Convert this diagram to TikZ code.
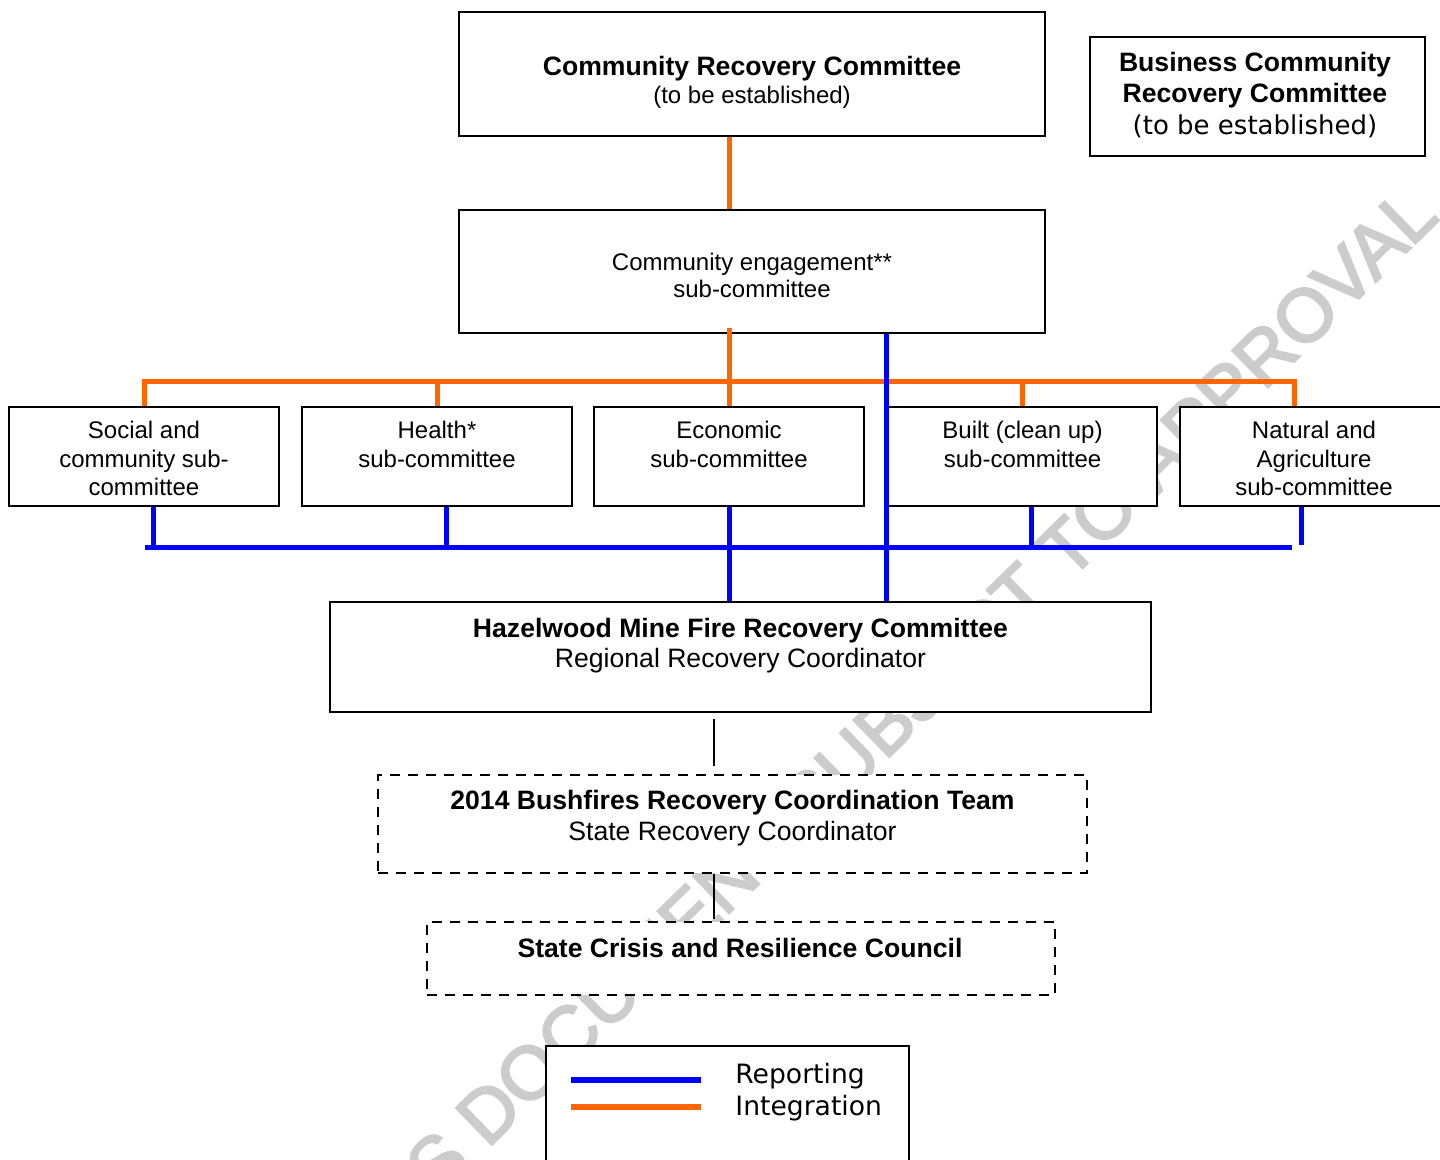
\documentclass[tikz,border=0pt]{standalone}
\usepackage{fontspec}
\setmainfont{Liberation Sans}
\newfontfamily\verd{DejaVu Sans}
\newfontfamily\wmfont[FakeBold=3]{Liberation Sans}
\usetikzlibrary{calc}
\definecolor{integc}{RGB}{255,102,0}
\definecolor{reportc}{RGB}{0,0,255}
\definecolor{wmarkc}{RGB}{204,204,204}
\begin{document}
\begin{tikzpicture}[x=0.5pt,y=-0.5pt,
  box/.style={draw=black, line width=1pt, fill=white, inner sep=0pt},
  dbox/.style={box, dash pattern=on 5pt off 4pt},
  reg/.style={font=\fontsize{12}{14}\selectfont, inner sep=0pt, anchor=base},
  regl/.style={font=\fontsize{13.3}{15}\selectfont, inner sep=0pt, anchor=base},
  bld/.style={font=\fontsize{13.3}{15}\selectfont\bfseries, inner sep=0pt, anchor=base},
  vrd/.style={font=\verd\fontsize{13.3}{15}\selectfont, inner sep=0pt},
  integ/.style={draw=integc, line width=2.5pt},
  report/.style={draw=reportc, line width=2.5pt},
  thinline/.style={draw=black, line width=1pt},
  wm/.style={font=\wmfont\fontsize{37.3}{40}\selectfont, text=wmarkc, rotate=44.3, inner sep=0pt}]
\useasboundingbox (0,0) rectangle (1440,1160);
\fill[white] (0,0) rectangle (1440,1160);
\clip (0,0) rectangle (1440,1160);

% watermark
\node[wm] (wmk) at (921,690) {S DOCUMENT SUBJECT TO APPROVAL};

% boxes
\node[box, minimum width=293pt, minimum height=62pt] (crc) at (752,74) {};
\node[box, minimum width=293pt, minimum height=61.5pt] (ce) at (752,271.5) {};
\node[box, minimum width=135pt, minimum height=49.5pt] (soc) at (144,456.5) {};
\node[box, minimum width=135pt, minimum height=49.5pt] (hea) at (437,456.5) {};
\node[box, minimum width=135pt, minimum height=49.5pt] (eco) at (729,456.5) {};
\node[box, minimum width=134.5pt, minimum height=49.5pt] (blt) at (1022.5,456.5) {};
\node[box, minimum width=135pt, minimum height=49.5pt] (nat) at (1315,456.5) {};
\node[box, minimum width=410.5pt, minimum height=55pt] (hz) at (740.5,657) {};
\node[dbox, minimum width=354.5pt, minimum height=49pt] (tm) at (732.5,824) {};
\node[dbox, minimum width=314pt, minimum height=36.5pt] (scr) at (741,958.5) {};
\node[box, minimum width=167.5pt, minimum height=59.5pt] (bcr) at (1257.5,96.5) {};
\node[box, minimum width=181.5pt, minimum height=77pt] (leg) at (727.5,1123) {};

% integration (orange)
\coordinate (ob) at (0,382);
\coordinate (natd) at ($(nat.north)+(-21,0)$);
\draw[integ] (crc.south -| eco.north) -- (ce.north -| eco.north);
\draw[integ] ($(ce.south -| eco.north)+(0,-6)$) -- (eco.north);
\draw[integ] (soc.north) -- (soc.north |- ob) -- (natd |- ob) -- (natd);
\draw[integ] (hea.north |- ob) -- (hea.north);
\draw[integ] (blt.north |- ob) -- (blt.north);

% reporting (blue)
\coordinate (bb) at (0,547);
\coordinate (bvx) at (886,0);
\coordinate (socb) at ($(soc.south)+(9,0)$);
\coordinate (heab) at ($(hea.south)+(9,0)$);
\coordinate (ecob) at (eco.south);
\coordinate (bltb) at ($(blt.south)+(8.5,0)$);
\coordinate (natb) at ($(nat.south)+(-14,0)$);
\draw[report] (ce.south -| bvx) -- (hz.north -| bvx);
\draw[report] ($(socb |- bb)+(-8,0)$) -- ($(natb |- bb)+(-9,0)$);
\draw[report] (socb) -- (socb |- bb);
\draw[report] (heab) -- (heab |- bb);
\draw[report] (ecob) -- (hz.north -| ecob);
\draw[report] (bltb) -- (bltb |- bb);
\draw[report] (natb) -- ($(natb |- bb)+(0,-2)$);

% thin black
\coordinate (cx) at (714,0);
\draw[thinline] ($(hz.south -| cx)+(0,6)$) -- ($(tm.north -| cx)+(0,-8)$);
\draw[thinline] (tm.south -| cx) -- ($(scr.north -| cx)+(0,-2)$);

% texts
\node[bld] (crc1) at (752,76) {Community Recovery Committee};
\node[reg] (crc2) at (752,103.5) {(to be established)};
\node[reg] (ce1) at (752,271) {Community engagement**};
\node[reg] (ce2) at (752,298) {sub-committee};
\node[reg] (soc1) at (144,438.5) {Social and};
\node[reg] (soc2) at (144,467) {community sub-};
\node[reg] (soc3) at (144,495) {committee};
\node[reg] (hea1) at (437,438.5) {Health*};
\node[reg] (hea2) at (437,467) {sub-committee};
\node[reg] (eco1) at (729,438.5) {Economic};
\node[reg] (eco2) at (729,467) {sub-committee};
\node[reg] (blt1) at (1022.5,438.5) {Built (clean up)};
\node[reg] (blt2) at (1022.5,467) {sub-committee};
\node[reg] (nat1) at (1314,438.5) {Natural and};
\node[reg] (nat2) at (1314,467) {Agriculture};
\node[reg] (nat3) at (1314,495) {sub-committee};
\node[bld] (hz1) at (740.5,637.5) {Hazelwood Mine Fire Recovery Committee};
\node[regl] (hz2) at (740.5,667) {Regional Recovery Coordinator};
\node[bld] (tm1) at (732.5,809.5) {2014 Bushfires Recovery Coordination Team};
\node[regl] (tm2) at (732.5,840) {State Recovery Coordinator};
\node[bld] (scr1) at (740,957.5) {State Crisis and Resilience Council};
\node[bld] (bcr1) at (1255,71.5) {Business Community};
\node[bld] (bcr2) at (1255,102.5) {Recovery Committee};
\node[vrd, anchor=base, font=\verd\fontsize{13}{15}\selectfont] (bcr3) at (1255,135) {(to be established)};

% legend
\coordinate (lgb) at ($(leg.north west)+(26,34.5)$);
\coordinate (lgo) at ($(leg.north west)+(26,62)$);
\draw[draw=reportc, line width=3pt] (lgb) -- ++(130,0);
\draw[draw=integc, line width=3pt] (lgo) -- ++(130,0);
\node[vrd, anchor=base west] (lg1) at (735,1083) {Reporting};
\node[vrd, anchor=base west] (lg2) at (735,1115) {Integration};
\end{tikzpicture}
\end{document}
